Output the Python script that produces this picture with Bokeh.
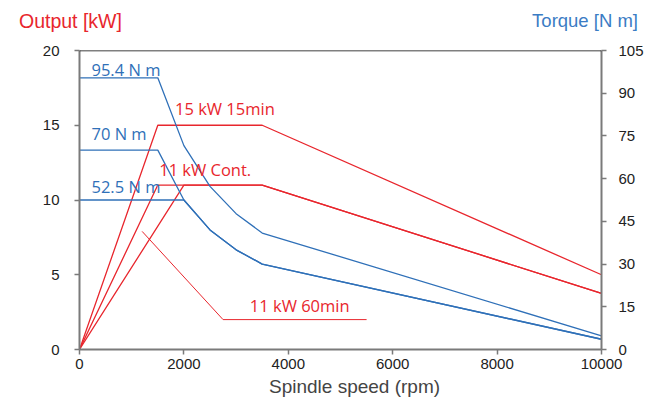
from bokeh.plotting import figure
from bokeh.models import Range1d, LinearAxis, Label, Span, FixedTicker, Div
from bokeh.layouts import column
from bokeh.embed import file_html
from bokeh.resources import INLINE

RED = "#e8262d"
BLUE = "#2f70b8"

# Power curves (kW) vs spindle speed (rpm)
p15_rpm = [0, 1500, 3500, 10000]
p15_kw = [0, 15, 15, 5.0]
p11_60_rpm = [0, 1500, 3500, 10000]
p11_60_kw = [0, 11, 11, 3.75]
p11c_rpm = [0, 2000, 3500, 10000]
p11c_kw = [0, 11, 11, 3.75]

# Torque curves (N m) vs spindle speed (rpm)
t95_rpm = [0, 1500, 2000, 2500, 3000, 3500, 10000]
t95_nm = [95.4, 95.4, 71.6, 57.3, 47.7, 40.9, 4.8]
t70_rpm = [0, 1500, 2000, 2500, 3000, 3500, 10000]
t70_nm = [70, 70, 52.5, 42.0, 35.0, 30.0, 3.6]
t52_rpm = [0, 2000, 2500, 3000, 3500, 10000]
t52_nm = [52.5, 52.5, 42.0, 35.0, 30.0, 3.6]

# Leader line for "11 kW 60min"
lead_rpm = [1200, 2750, 5500]
lead_kw = [7.9, 2.0, 2.0]

x_ticks = [0, 2000, 4000, 6000, 8000, 10000]
y_ticks = [0, 5, 10, 15, 20]
t_ticks = [0, 15, 30, 45, 60, 75, 90, 105]

HEAD_H = 36
FOOT_H = 30
p = figure(width=646, height=405 - HEAD_H - FOOT_H, output_backend="svg",
           toolbar_location=None,
           x_range=Range1d(0, 10000), y_range=Range1d(0, 20),
           min_border_left=79, min_border_right=43, min_border_top=50 - HEAD_H,
           min_border_bottom=26)
p.extra_y_ranges = {"torque": Range1d(0, 105)}
p.outline_line_color = None
p.xgrid.visible = False
p.ygrid.visible = False

AX = "#7a7a7a"
TICKC = "#222222"


def style(ax, standoff):
    ax.axis_line_color = AX
    ax.axis_line_width = 2
    ax.major_tick_line_color = AX
    ax.major_tick_line_width = 1.5
    ax.major_tick_out = 5
    ax.major_tick_in = 0
    ax.minor_tick_line_color = None
    ax.major_label_text_font = "Liberation Sans"
    ax.major_label_text_font_size = "15px"
    ax.major_label_text_color = TICKC
    ax.major_label_standoff = standoff


style(p.xaxis[0], 4)
style(p.yaxis[0], 15)
p.xaxis[0].ticker = FixedTicker(ticks=x_ticks)
p.yaxis[0].ticker = FixedTicker(ticks=y_ticks)

rax = LinearAxis(y_range_name="torque", ticker=FixedTicker(ticks=t_ticks))
style(rax, 12)
p.add_layout(rax, "right")

p.add_layout(Span(location=20, dimension="width", line_color="black", line_width=1.5))

# power lines
p.line(p15_rpm, p15_kw, line_color=RED, line_width=1.3)
p.line(p11_60_rpm, p11_60_kw, line_color=RED, line_width=1.3)
p.line(p11c_rpm, p11c_kw, line_color=RED, line_width=1.3)
p.line(lead_rpm, lead_kw, line_color=RED, line_width=1)

# torque lines
p.line(t95_rpm, t95_nm, line_color=BLUE, line_width=1.3, y_range_name="torque")
p.line(t70_rpm, t70_nm, line_color=BLUE, line_width=1.3, y_range_name="torque")
p.line(t52_rpm, t52_nm, line_color=BLUE, line_width=1.3, y_range_name="torque")

LF = "Open Sans"
LS = "16.5px"
labels = [
    ("95.4 N m", 230, 18.72, BLUE),
    ("70 N m", 230, 14.44, BLUE),
    ("52.5 N m", 230, 10.92, BLUE),
    ("15 kW 15min", 1830, 16.11, RED),
    ("11 kW Cont.", 1527, 12.03, RED),
    ("11 kW 60min", 3263, 2.93, RED),
]
for txt, x, y, c in labels:
    p.add_layout(Label(x=x, y=y, text=txt, text_color=c, text_font=LF,
                       text_font_size=LS, text_baseline="alphabetic",
                       text_align="left"))

head_html = (
    '<div style="position:relative;width:646px;height:%dpx;">'
    '<span style="position:absolute;left:19px;top:10px;color:%s;'
    'font-family:\'Liberation Sans\';font-size:19.5px;line-height:normal;'
    'white-space:nowrap;">Output [kW]</span>'
    '<span style="position:absolute;right:8px;top:10px;color:#3b7cc4;'
    'font-family:\'Liberation Sans\';font-size:18.5px;line-height:normal;'
    'white-space:nowrap;">Torque [N m]</span>'
    '</div>' % (HEAD_H, RED)
)
head = Div(text=head_html, width=646, height=HEAD_H, margin=(0, 0, 0, 0))

foot_html = (
    '<div style="position:relative;width:646px;height:%dpx;">'
    '<span style="position:absolute;left:269px;top:1px;color:#444444;'
    'font-family:\'Liberation Sans\';font-size:19px;line-height:normal;'
    'white-space:nowrap;">Spindle speed (rpm)</span>'
    '</div>' % FOOT_H
)
foot = Div(text=foot_html, width=646, height=FOOT_H, margin=(0, 0, 0, 0))

layout = column(head, p, foot, spacing=0)

open("out.html", "w").write(file_html(layout, INLINE))
